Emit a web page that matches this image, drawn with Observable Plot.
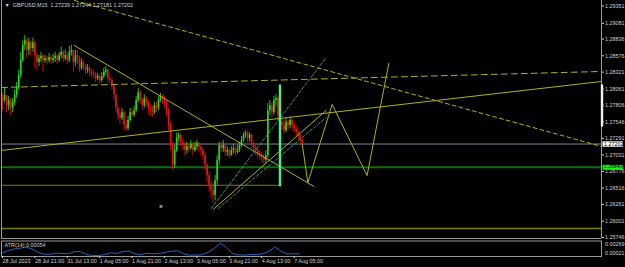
<!DOCTYPE html>
<html><head><meta charset="utf-8">
<script src="https://cdn.jsdelivr.net/npm/d3@7"></script>
<script src="https://cdn.jsdelivr.net/npm/@observablehq/plot@0.6"></script>
<style>
html,body{margin:0;padding:0;background:#000;}
#wrap{position:relative;width:625px;height:267px;overflow:hidden;background:#000;}
#wrap svg{position:absolute;left:0;}
</style></head><body><div id="wrap"></div>
<script>
// ---- data ----
const titleText = "▼  GBPUSD,M15  1.27239 1.27244 1.27181 1.27202";
const priceTicks = [1.29351,1.29081,1.28836,1.28576,1.28321,1.28061,1.27806,1.27546,1.27291,1.27031,1.26776,1.26516,1.26261,1.26001,1.25746];
const timeTickBars = [0,64,128,192,256,320,384,448,512,576];
const timeTickLabels = ["28 Jul 2023","28 Jul 21:00","31 Jul 13:00","1 Aug 05:00","1 Aug 21:00","2 Aug 13:00","3 Aug 05:00","3 Aug 21:00","4 Aug 13:00","7 Aug 05:00"];
const barsPerCandle = 4; // hourly candles built from M15 bars
const firstOpen = 1.2791;
const closes = [
1.2788,1.2796,1.2780,1.2788,1.2776,1.2785,1.2796,1.2807,1.2827,1.2850,
1.2874,1.2881,1.2866,1.2878,1.2869,1.2878,1.2858,1.2847,1.2853,1.2857,
1.2850,1.2853,1.2850,1.2855,1.2850,1.2853,1.2857,1.2850,1.2858,1.2863,
1.2853,1.2858,1.2850,1.2863,1.2866,1.2847,1.2858,1.2853,1.2838,1.2847,
1.2841,1.2835,1.2838,1.2832,1.2830,1.2828,1.2822,1.2825,1.2819,1.2825,
1.2832,1.2835,1.2822,1.2819,1.2811,1.2796,1.2776,1.2765,1.2760,1.2769,
1.2749,1.2744,1.2757,1.2769,1.2765,1.2772,1.2788,1.2800,1.2788,1.2780,
1.2791,1.2785,1.2776,1.2772,1.2769,1.2780,1.2776,1.2788,1.2794,1.2791,
1.2785,1.2772,1.2749,1.2718,1.2687,1.2710,1.2729,1.2734,1.2723,1.2718,
1.2710,1.2716,1.2713,1.2720,1.2710,1.2716,1.2721,1.2715,1.2710,1.2702,
1.2687,1.2671,1.2656,1.2648,1.2640,1.2663,1.2695,1.2718,1.2713,1.2718,
1.2707,1.2710,1.2702,1.2710,1.2713,1.2707,1.2710,1.2718,1.2726,1.2734,
1.2737,1.2729,1.2734,1.2721,1.2713,1.2710,1.2705,1.2702,1.2698,1.2695,
1.2702,1.2772,1.2780,1.2769,1.2788,1.2791,1.2765,1.2754,1.2749,1.2741,
1.2754,1.2749,1.2757,1.2749,1.2744,1.2738,1.2734,1.2726,1.2720];
const highs = [
1.2800,1.2807,1.2796,1.2794,1.2791,1.2791,1.2804,1.2816,1.2835,1.2863,
1.2881,1.2889,1.2885,1.2885,1.2881,1.2885,1.2881,1.2863,1.2858,1.2863,
1.2860,1.2858,1.2857,1.2861,1.2858,1.2860,1.2863,1.2860,1.2863,1.2871,
1.2866,1.2866,1.2863,1.2872,1.2874,1.2866,1.2866,1.2866,1.2857,1.2853,
1.2850,1.2844,1.2844,1.2841,1.2836,1.2835,1.2832,1.2830,1.2828,1.2832,
1.2838,1.2841,1.2838,1.2825,1.2822,1.2813,1.2797,1.2780,1.2772,1.2776,
1.2772,1.2757,1.2763,1.2776,1.2776,1.2779,1.2794,1.2807,1.2804,1.2791,
1.2797,1.2794,1.2788,1.2782,1.2779,1.2785,1.2785,1.2794,1.2799,1.2797,
1.2794,1.2788,1.2776,1.2754,1.2723,1.2718,1.2737,1.2738,1.2735,1.2729,
1.2723,1.2723,1.2721,1.2726,1.2723,1.2723,1.2726,1.2723,1.2718,1.2713,
1.2707,1.2691,1.2676,1.2663,1.2660,1.2671,1.2702,1.2723,1.2724,1.2726,
1.2720,1.2716,1.2713,1.2716,1.2720,1.2716,1.2718,1.2723,1.2732,1.2738,
1.2741,1.2740,1.2738,1.2735,1.2723,1.2718,1.2713,1.2710,1.2707,1.2704,
1.2710,1.2783,1.2788,1.2785,1.2794,1.2797,1.2794,1.2769,1.2760,1.2757,
1.2760,1.2757,1.2762,1.2760,1.2754,1.2748,1.2741,1.2735,1.2729];
const lows = [
1.2772,1.2785,1.2769,1.2772,1.2765,1.2769,1.2780,1.2791,1.2804,1.2822,
1.2847,1.2866,1.2853,1.2858,1.2857,1.2863,1.2838,1.2835,1.2841,1.2847,
1.2832,1.2846,1.2843,1.2846,1.2844,1.2846,1.2847,1.2844,1.2847,1.2853,
1.2847,1.2850,1.2844,1.2847,1.2857,1.2832,1.2841,1.2844,1.2832,1.2835,
1.2835,1.2828,1.2830,1.2825,1.2824,1.2822,1.2816,1.2819,1.2813,1.2816,
1.2822,1.2827,1.2816,1.2813,1.2804,1.2788,1.2769,1.2757,1.2751,1.2757,
1.2741,1.2740,1.2741,1.2754,1.2760,1.2762,1.2769,1.2785,1.2782,1.2772,
1.2776,1.2779,1.2766,1.2763,1.2762,1.2766,1.2769,1.2772,1.2785,1.2782,
1.2776,1.2763,1.2741,1.2710,1.2679,1.2682,1.2707,1.2723,1.2716,1.2710,
1.2702,1.2704,1.2707,1.2710,1.2702,1.2707,1.2710,1.2707,1.2701,1.2695,
1.2679,1.2660,1.2645,1.2635,1.2628,1.2632,1.2656,1.2687,1.2707,1.2707,
1.2701,1.2701,1.2698,1.2701,1.2705,1.2701,1.2704,1.2707,1.2715,1.2723,
1.2729,1.2723,1.2723,1.2713,1.2707,1.2702,1.2698,1.2695,1.2691,1.2688,
1.2690,1.2698,1.2765,1.2760,1.2765,1.2779,1.2757,1.2748,1.2741,1.2735,
1.2738,1.2741,1.2744,1.2741,1.2738,1.2732,1.2726,1.2720,1.2716];
const atrStep = 12; // ATR sampled every 12 M15 bars
const atrValues = [
0.00067,0.00114,0.00147,0.00166,0.00186,0.00153,0.00087,0.00047,0.00047,0.00067,
0.00061,0.00054,0.00094,0.00100,0.00041,0.00021,0.00021,0.00041,0.00074,0.00061,
0.00100,0.00107,0.00054,0.00041,0.00067,0.00054,0.00061,0.00087,0.00107,0.00114,
0.00054,0.00028,0.00028,0.00034,0.00087,0.00160,0.00266,0.00186,0.00061,0.00034,
0.00028,0.00041,0.00041,0.00054,0.00100,0.00193,0.00107,0.00054,0.00054,0.00054];
const atrLabel = "ATR(14) 0.00054";
const atrMax = 0.00269, atrMin = 0.00021;
const bidPrice = 1.27202;
const levelPrice = 1.26840;
// drawn objects (bar index, price)
const dashedFalling = [[144,1.29437],[1185,1.27164]];
const dashedFlat = [[0,1.28083],[1185,1.28332]];
const solidFalling = [[144,1.28736],[617,1.26541]];
const solidRising = [[0,1.27102],[1185,1.28176]];
const channelUpper = [[414,1.26198],[641,1.28547]];
const channelMid = [[418,1.26183],[641,1.27724]];
const channelLower = [[428,1.26198],[641,1.27615]];
const zigzag = [[594,1.2720],[605,1.2660],[653,1.2782],[722,1.2671],[765,1.2846]];
const lowerLevel = [[0,1.2656],[552,1.2656]];
const bottomLevel = [[0,1.25887],[1185,1.25887]];
const vLine = [[550,1.28114],[550,1.2656]];
const axisMark = [[1186,1.28114],[1186,1.27491]];
const iconPoint = [[315,1.2623]];
const mainBottom = 1.25731, mainTop = 1.29437, lastBar = 1185;

// ---- build ----
const candles = closes.map((c,i)=>({t:i*barsPerCandle+barsPerCandle/2, o:i?closes[i-1]:firstOpen, h:highs[i], l:lows[i], c}));
const upC = "#22d622", dnC = "#e01212";
const yellow = "#b0b020", olive = "#7c7c10", teal = "#2f9a60";
const border = "#9a9a9a";
const font = "Liberation Sans, Arial, sans-serif";
const fs = 5.4;
const txt = "#d2d2d2";

const main = Plot.plot({
  width:625, height:239, marginLeft:1, marginRight:24, marginTop:0, marginBottom:1,
  style:{background:"transparent", color:txt, fontFamily:font, overflow:"visible"},
  x:{domain:[0,lastBar], axis:null},
  y:{domain:[mainBottom,mainTop]},
  marks:[
    Plot.ruleY([levelPrice],{stroke:"#0c6e0c", strokeWidth:2}),
    Plot.ruleY([bidPrice],{stroke:"#76879a", strokeWidth:1}),
    Plot.line(bottomLevel,{stroke:olive, strokeWidth:1.4}),
    Plot.line(lowerLevel,{stroke:olive, strokeWidth:1.2}),
    Plot.ruleX(candles,{filter:d=>d.c>=d.o, x:"t", y1:"l", y2:"h", stroke:upC, strokeWidth:0.9}),
    Plot.ruleX(candles,{filter:d=>d.c<d.o, x:"t", y1:"l", y2:"h", stroke:dnC, strokeWidth:0.9}),
    Plot.ruleX(candles,{filter:d=>d.c>=d.o, x:"t", y1:"o", y2:"c", stroke:upC, strokeWidth:1.7}),
    Plot.ruleX(candles,{filter:d=>d.c<d.o, x:"t", y1:"o", y2:"c", stroke:dnC, strokeWidth:1.7}),
    Plot.line(dashedFalling,{stroke:yellow, strokeWidth:1, strokeDasharray:"4,3", clip:true}),
    Plot.line(dashedFlat,{stroke:yellow, strokeWidth:1, strokeDasharray:"6,4", clip:true}),
    Plot.line(solidFalling,{stroke:yellow, strokeWidth:1, clip:true}),
    Plot.line(solidRising,{stroke:yellow, strokeWidth:1, clip:true}),
    Plot.line(channelUpper,{stroke:teal, strokeWidth:1, strokeDasharray:"3,2", clip:true}),
    Plot.line(channelMid,{stroke:yellow, strokeWidth:1, clip:true}),
    Plot.line(channelLower,{stroke:teal, strokeWidth:1, strokeDasharray:"3,2", clip:true}),
    Plot.line(zigzag,{stroke:yellow, strokeWidth:1, clip:true}),
    Plot.line(vLine,{stroke:"#3ef08e", strokeWidth:2.4}),
    Plot.dot(iconPoint,{symbol:"square", r:1.6, fill:"#8c8c8c"}),
    Plot.ruleX([0],{stroke:border}),
    Plot.ruleX([lastBar],{stroke:border}),
    Plot.ruleY([mainBottom],{stroke:border}),
    Plot.line(axisMark,{stroke:"#f0f0f0", strokeWidth:2.4}),
    Plot.axisY({anchor:"right", ticks:priceTicks, tickFormat:d=>d.toFixed(5), tickSize:2, tickPadding:1.5, fontSize:fs, label:null}),
    Plot.ruleY([bidPrice],{x1:1188, x2:1228, stroke:"#ffffff", strokeWidth:5.4}),
    Plot.text([bidPrice],{x:1188, y:d=>d, text:d=>d.toFixed(5), textAnchor:"start", dx:1, fill:"#000", fontSize:fs}),
    Plot.ruleY([levelPrice],{x1:1188, x2:1228, stroke:"#19f019", strokeWidth:5}),
    Plot.text([levelPrice],{x:1188, y:d=>d, text:d=>d.toFixed(5), textAnchor:"start", dx:1, dy:-0.4, fill:"#000", fontSize:5}),
    Plot.text([titleText],{text:d=>d, frameAnchor:"top-left", dx:3, dy:2.5, lineAnchor:"top", textAnchor:"start", fill:txt, fontSize:fs})
  ]
});
main.style.top = "0px";

const atr = Plot.plot({
  width:625, height:28, marginLeft:1, marginRight:24, marginTop:1.5, marginBottom:11,
  style:{background:"transparent", color:txt, fontFamily:font, overflow:"visible"},
  x:{domain:[0,lastBar]},
  y:{domain:[atrMin, atrMax], range:[16,3.5], axis:null},
  marks:[
    Plot.line(atrValues.map((v,j)=>[j*atrStep, v]),{stroke:"#2463c4", strokeWidth:1}),
    Plot.frame({stroke:border}),
    Plot.text([atrMax],{x:lastBar, y:d=>d, text:d=>d.toFixed(5), textAnchor:"start", dx:3.5, dy:1.5, fill:txt, fontSize:fs}),
    Plot.text([atrMin],{x:lastBar, y:d=>d, text:d=>d.toFixed(5), textAnchor:"start", dx:3.5, dy:-2, fill:txt, fontSize:fs}),
    Plot.text([atrLabel],{text:d=>d, frameAnchor:"top-left", dx:3, dy:2, lineAnchor:"top", textAnchor:"start", fill:txt, fontSize:fs}),
    Plot.axisX({ticks:timeTickBars, tickFormat:(d)=>timeTickLabels[timeTickBars.indexOf(d)], tickSize:2, tickPadding:0.5, textAnchor:"start", dx:1, fontSize:fs, label:null})
  ]
});
atr.style.top = "239px";

const wrap = document.getElementById("wrap");
wrap.appendChild(main);
wrap.appendChild(atr);
</script></body></html>
